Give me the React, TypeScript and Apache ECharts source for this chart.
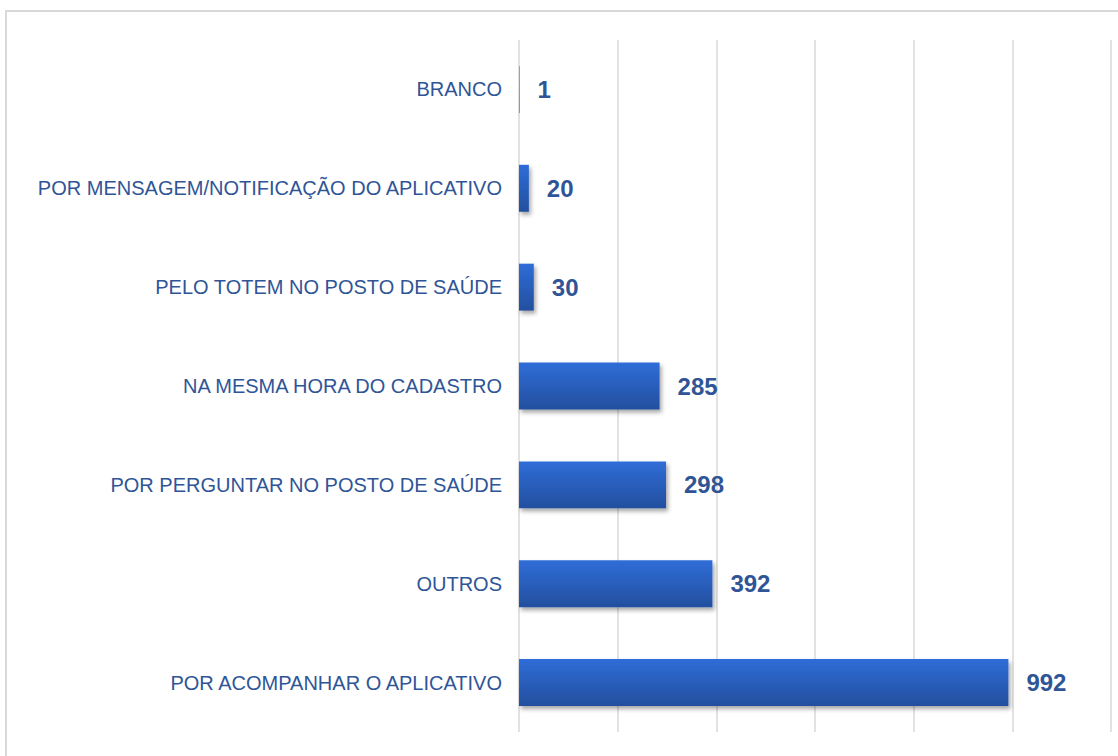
import React, { useEffect, useRef } from "react";
import * as echarts from "echarts";

const categories = [
  "POR ACOMPANHAR O APLICATIVO",
  "OUTROS",
  "POR PERGUNTAR NO POSTO DE SAÚDE",
  "NA MESMA HORA DO CADASTRO",
  "PELO TOTEM NO POSTO DE SAÚDE",
  "POR MENSAGEM/NOTIFICAÇÃO DO APLICATIVO",
  "BRANCO",
];
const values = [992, 392, 298, 285, 30, 20, 1];

export default function App() {
  const ref = useRef<HTMLDivElement>(null);
  useEffect(() => {
    const chart = echarts.init(ref.current!, null, { renderer: "svg" });
    chart.setOption({
      animation: false,
      backgroundColor: "#ffffff",
      graphic: [
        {
          type: "rect",
          shape: { x: 6, y: 11, width: 1200, height: 800 },
          style: { fill: "none", stroke: "#d9d9d9", lineWidth: 2 },
          silent: true,
        },
      ],
      grid: { left: 519, right: 7, top: 40, bottom: 24 },
      xAxis: {
        type: "value",
        min: 0,
        max: 1200,
        interval: 200,
        axisLabel: { show: false },
        axisLine: { show: false },
        axisTick: { show: false },
        splitLine: { show: true, lineStyle: { color: "#d9d9d9", width: 1.5 } },
      },
      yAxis: {
        type: "category",
        data: categories,
        axisLine: { show: false },
        axisTick: { show: false },
        axisLabel: {
          color: "#2f5597",
          fontSize: 20,
          fontFamily: "Liberation Sans Narrow, Liberation Sans, sans-serif",
          margin: 17,
        },
      },
      series: [
        {
          type: "bar",
          data: values,
          barWidth: "47.5%",
          itemStyle: {
            color: new echarts.graphic.LinearGradient(0, 0, 0, 1, [
              { offset: 0, color: "#2f6dd8" },
              { offset: 1, color: "#234f9e" },
            ]),
            shadowColor: "rgba(0,0,0,0.35)",
            shadowBlur: 4,
            shadowOffsetX: 2,
            shadowOffsetY: 3,
          },
          label: {
            show: true,
            position: "right",
            distance: 18,
            color: "#2f5597",
            fontSize: 24,
            fontWeight: "bold",
            fontFamily: "Liberation Sans Narrow, Liberation Sans, sans-serif",
          },
        },
      ],
    });
    return () => chart.dispose();
  }, []);
  return <div ref={ref} style={{ width: 1118, height: 756, position: "fixed", left: 0, top: 0 }} />;
}
